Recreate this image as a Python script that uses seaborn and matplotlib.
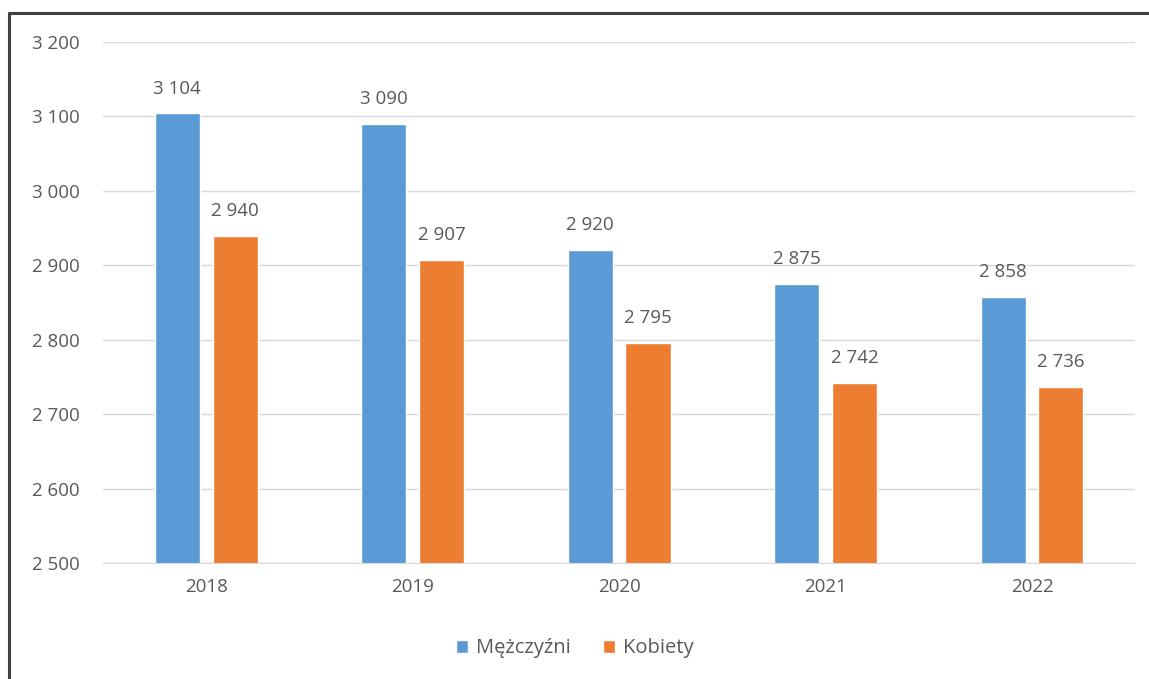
import pandas as pd
import matplotlib
matplotlib.use("Agg")
import matplotlib.pyplot as plt
from matplotlib.lines import Line2D
from matplotlib.patches import Patch
import seaborn as sns

years = ["2018", "2019", "2020", "2021", "2022"]
men = [3104, 3090, 2920, 2875, 2858]
women = [2940, 2907, 2795, 2742, 2736]
series_names = ["Mężczyźni", "Kobiety"]
y_ticks = [2500, 2600, 2700, 2800, 2900, 3000, 3100, 3200]

colors = {"Mężczyźni": "#5B9BD5", "Kobiety": "#ED7D31"}
text_color = "#595959"
fs = 13.5

df = pd.DataFrame({
    "rok": years * 2,
    "wartosc": men + women,
    "plec": [series_names[0]] * len(years) + [series_names[1]] * len(years),
})

sns.set_style("white")
plt.rcParams["font.family"] = ["Open Sans", "DejaVu Sans"]


def fmt(v):
    return f"{int(v):,}".replace(",", " ")


fig = plt.figure(figsize=(11.49, 6.79), dpi=100)
ax = fig.add_axes([0.0896, 0.1708, 0.8984, 0.7673])

sns.barplot(data=df, x="rok", y="wartosc", hue="plec", palette=colors,
            width=0.56, gap=0.22, ax=ax, legend=False, saturation=1)

ax.set_ylim(2500, 3200)
ax.set_xlim(-0.5, 4.5)
ax.set_yticks(y_ticks)
ax.set_yticklabels([fmt(t) for t in y_ticks])
ax.yaxis.grid(True, color="#D9D9D9", lw=1)
ax.set_axisbelow(True)
for s in ["top", "right", "left"]:
    ax.spines[s].set_visible(False)
ax.spines["bottom"].set_color("#D9D9D9")
ax.tick_params(axis="both", length=0, labelsize=fs, colors=text_color)
ax.tick_params(axis="x", pad=11)
ax.tick_params(axis="y", pad=17)
ax.set_xlabel("")
ax.set_ylabel("")

for cont in ax.containers:
    ax.bar_label(cont, labels=[fmt(b.get_height()) for b in cont],
                 padding=11.5, fontsize=fs, color=text_color)

handles = [Patch(facecolor=colors[n], label=n) for n in series_names]
fig.legend(handles=handles, loc="center", bbox_to_anchor=(0.5, 0.045),
           ncol=2, frameon=False, fontsize=14.5, labelcolor=text_color,
           handlelength=0.6, handleheight=0.6, handletextpad=0.4, columnspacing=1.6)

# ramka wykresu (góra i lewa krawędź)
fig.add_artist(Line2D([9 / 1149, 1], [1 - 13 / 679, 1 - 13 / 679], color="#404040", lw=2.2))
fig.add_artist(Line2D([9 / 1149, 9 / 1149], [0, 1 - 13 / 679], color="#404040", lw=2.2))

fig.savefig("out.png", dpi=100)
